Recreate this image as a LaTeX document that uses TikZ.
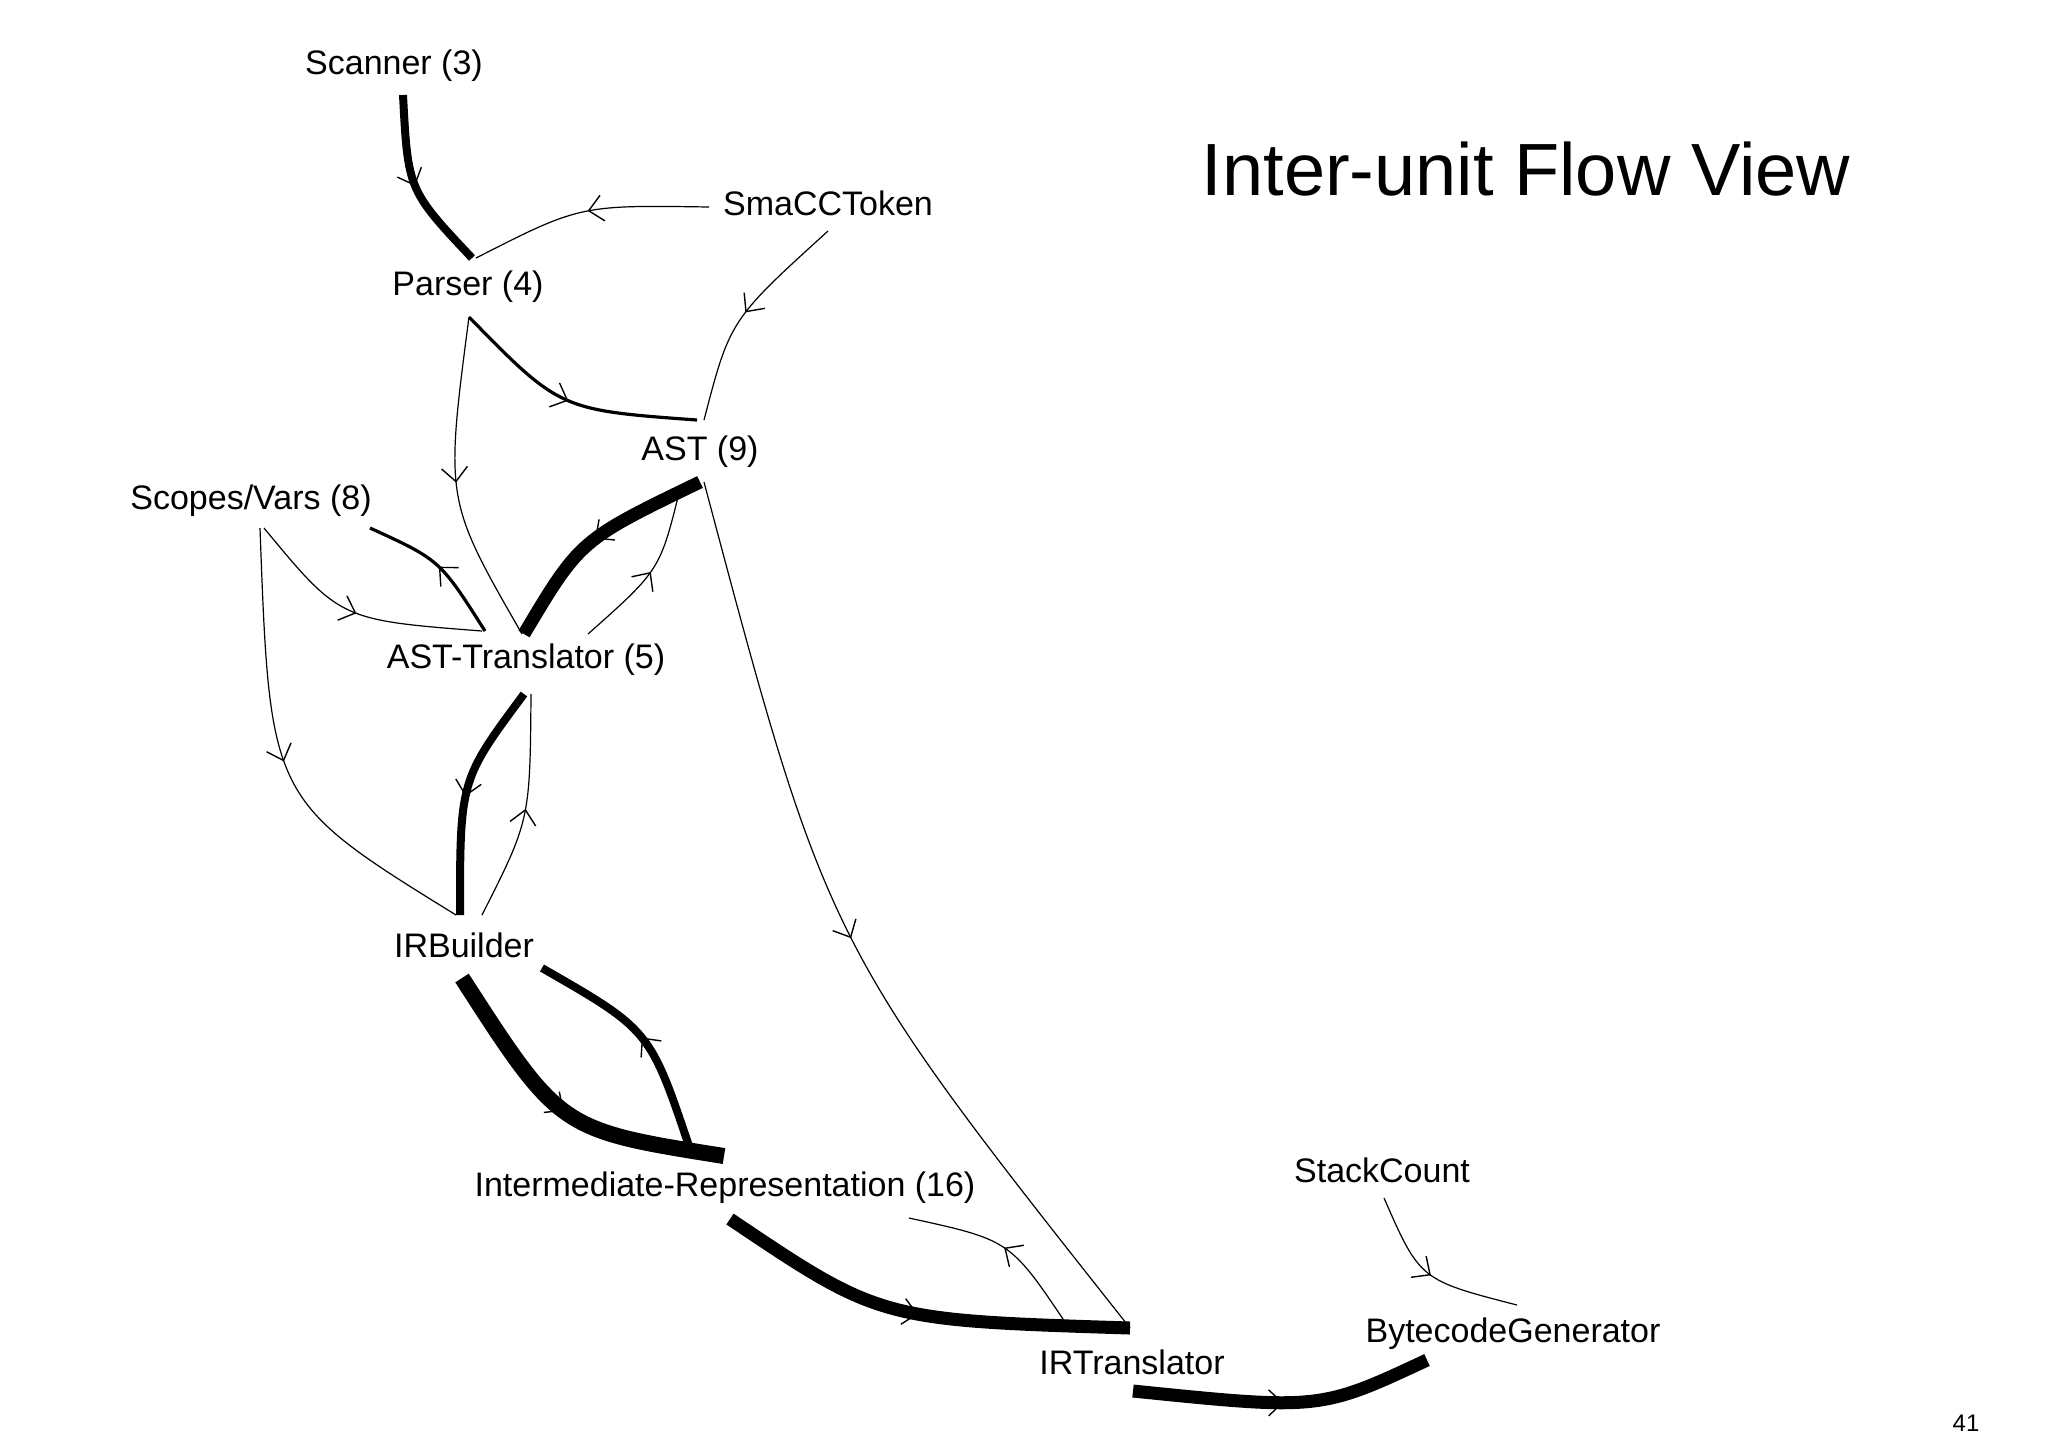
\documentclass[tikz,border=0pt]{standalone}
\usepackage{fontspec}
\setmainfont{Liberation Sans}
\usetikzlibrary{arrows.meta,decorations.markings}
\begin{document}
\begin{tikzpicture}[x=0.5pt,y=-0.5pt,
  lbl/.style={inner sep=0pt,font=\fontsize{17}{20}\selectfont},
  e/.style={line width=#1,postaction={decorate},decoration={markings,
     mark=at position 0.5 with {\arrow{Straight Barb[length=7pt,width=13pt,line width=0.7pt]}}}},
  thin/.style={e=0.6pt},
  med/.style={e=1.6pt},
  thick/.style={e=4pt},
  heavy/.style={e=6.5pt}]
\useasboundingbox (0,0) rectangle (2048,1448);
\node[lbl] (scanner) at (394,66) {Scanner (3)};
\node[lbl] (smacc) at (828,203) {SmaCCToken};
\node[lbl] (parser) at (468,287) {Parser (4)};
\node[lbl] (ast) at (700,452) {AST (9)};
\node[lbl] (scopes) at (251,501) {Scopes/Vars (8)};
\node[lbl] (asttr) at (526,660) {AST-Translator (5)};
\node[lbl] (irb) at (464,945) {IRBuilder};
\node[lbl] (ir) at (725,1188) {Intermediate-Representation (16)};
\node[lbl] (stack) at (1382,1170) {StackCount};
\node[lbl] (bcg) at (1513,1334) {BytecodeGenerator};
\node[lbl] (irt) at (1132,1362) {IRTranslator};
\node[inner sep=0pt,font=\fontsize{37}{40}\selectfont] (title) at (1526,169) {Inter-unit Flow View};
\node[inner sep=0pt,font=\fontsize{12}{14}\selectfont\rmfamily] (pg) at (1966,1423) {41};

\draw[thick] ([shift={(9,29)}]scanner.center) .. controls (408,190) .. ([shift={(4,-29)}]parser.center);
\draw[thin] ([shift={(-119,4)}]smacc.center) .. controls (580,205) .. ([shift={(8,-29)}]parser.center);
\draw[thin] ([shift={(0,28)}]smacc.center) .. controls (730,320) .. ([shift={(4,-32)}]ast.center);
\draw[med] ([shift={(1,30)}]parser.center) .. controls (560,410) .. ([shift={(-3,-32)}]ast.center);
\draw[thin] ([shift={(1,30)}]parser.center) .. controls (445,500) .. ([shift={(-4,-26)}]asttr.center);
\draw[thin] ([shift={(13,27)}]scopes.center) .. controls (340,620) .. ([shift={(-44,-29)}]asttr.center);
\draw[med] ([shift={(-41,-29)}]asttr.center) .. controls (440,560) .. ([shift={(119,27)}]scopes.center);
\draw[heavy] ([shift={(0,30)}]ast.center) .. controls (580,540) .. ([shift={(-2,-26)}]asttr.center);
\draw[thin] ([shift={(62,-26)}]asttr.center) .. controls (660,570) .. ([shift={(-20,37)}]ast.center);
\draw[thin] ([shift={(4,30)}]ast.center) .. controls (827,945) .. ([shift={(-2,-34)}]irt.center);
\draw[thin] ([shift={(9,27)}]scopes.center) .. controls (270,800) .. ([shift={(-8,-30)}]irb.center);
\draw[thick] ([shift={(-2,34)}]asttr.center) .. controls (460,780) .. ([shift={(-4,-30)}]irb.center);
\draw[thin] ([shift={(18,-30)}]irb.center) .. controls (530,820) .. ([shift={(5,34)}]asttr.center);
\draw[e=8pt] ([shift={(-2,33)}]irb.center) .. controls (560,1130) .. ([shift={(-1,-32)}]ir.center);
\draw[thick] ([shift={(-35,-39)}]ir.center) .. controls (650,1030) .. ([shift={(78,23)}]irb.center);
\draw[heavy] ([shift={(5,31)}]ir.center) .. controls (880,1320) .. ([shift={(-2,-34)}]irt.center);
\draw[thin] ([shift={(-65,-37)}]irt.center) .. controls (1010,1240) .. ([shift={(184,30)}]ir.center);
\draw[heavy] ([shift={(1,29)}]irt.center) .. controls (1320,1410) .. ([shift={(-86,26)}]bcg.center);
\draw[thin] ([shift={(2,28)}]stack.center) .. controls (1420,1280) .. ([shift={(4,-29)}]bcg.center);
\end{tikzpicture}
\end{document}
